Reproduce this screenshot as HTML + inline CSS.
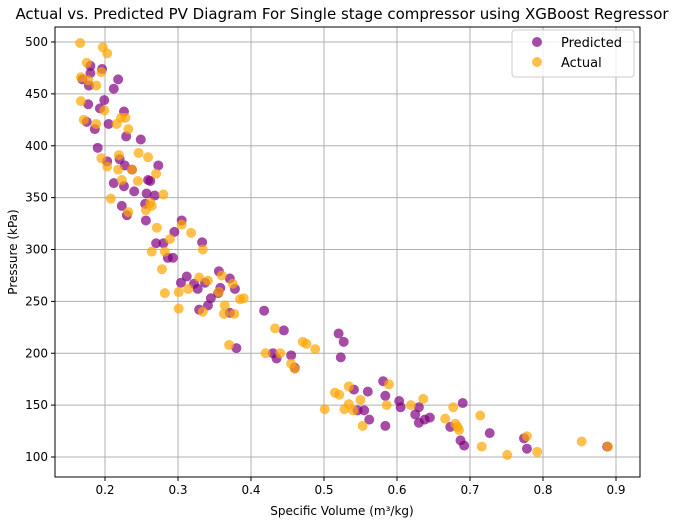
<!DOCTYPE html>
<html><head><meta charset="utf-8"><style>
body{margin:0;background:#fff;}
svg{display:block;font-family:"DejaVu Sans","Liberation Sans",sans-serif;}
</style></head><body>
<svg id="chart" width="685" height="520">
<text x="342" y="19" text-anchor="middle" font-size="15" fill="#000">Actual vs. Predicted PV Diagram For Single stage compressor using XGBoost Regressor</text>
<g id="grid"></g>
<g id="marks"></g>
<rect x="55" y="27" width="585" height="450" fill="none" stroke="#000" stroke-width="1"/>
<g id="ticks"></g>
<text x="342" y="515" text-anchor="middle" font-size="12">Specific Volume (m³/kg)</text>
<text x="0" y="0" transform="translate(17,252) rotate(-90)" text-anchor="middle" font-size="12">Pressure (kPa)</text>
<g>
<rect x="512" y="30" width="122" height="47" rx="3" fill="#fff" fill-opacity="0.8" stroke="#ccc"/>
<circle cx="537" cy="42" r="5" fill="#800080" fill-opacity="0.7"/>
<text x="561" y="47" font-size="13">Predicted</text>
<circle cx="537" cy="62" r="5" fill="#FFA500" fill-opacity="0.7"/>
<text x="561" y="67" font-size="13">Actual</text>
</g>
</svg>
<script>
const xTicks=[0.2,0.3,0.4,0.5,0.6,0.7,0.8,0.9];
const yTicks=[100,150,200,250,300,350,400,450,500];
const predV=[0.18,0.196,0.18,0.169,0.178,0.218,0.212,0.199,0.177,0.193,0.226,0.175,0.186,0.205,0.229,0.249,0.19,0.203,0.22,0.227,0.237,0.273,0.212,0.226,0.24,0.259,0.257,0.268,0.223,0.23,0.255,0.256,0.305,0.262,0.295,0.27,0.28,0.333,0.286,0.293,0.356,0.312,0.304,0.371,0.322,0.337,0.327,0.358,0.378,0.355,0.345,0.341,0.329,0.371,0.418,0.445,0.38,0.43,0.435,0.455,0.46,0.52,0.527,0.523,0.581,0.541,0.56,0.584,0.603,0.605,0.63,0.625,0.546,0.555,0.562,0.584,0.63,0.638,0.645,0.673,0.69,0.687,0.692,0.727,0.774,0.778,0.888];
const predP=[477,474,470,464,458,464,455,444,440,436,433,423,416,421,409,406,398,385,387,381,377,381,364,361,356,367,354,352,342,333,344,328,328,366,317,306,306,307,292,292,279,274,268,272,267,268,262,263,262,258,253,246,242,239,241,222,205,200,195,198,186,219,211,196,173,165,163,159,154,148,148,141,145,145,136,130,133,136,138,129,152,116,111,123,118,108,110];
const actV=[0.166,0.197,0.203,0.175,0.195,0.167,0.177,0.188,0.167,0.199,0.222,0.228,0.171,0.188,0.216,0.232,0.246,0.259,0.219,0.195,0.203,0.218,0.237,0.27,0.223,0.245,0.28,0.208,0.232,0.256,0.262,0.264,0.271,0.305,0.318,0.264,0.282,0.289,0.334,0.278,0.282,0.301,0.314,0.329,0.341,0.36,0.375,0.356,0.301,0.334,0.364,0.363,0.377,0.385,0.39,0.433,0.37,0.42,0.44,0.455,0.46,0.471,0.476,0.488,0.501,0.515,0.521,0.534,0.534,0.528,0.54,0.55,0.553,0.586,0.589,0.619,0.636,0.666,0.677,0.68,0.685,0.683,0.714,0.716,0.751,0.778,0.792,0.853,0.889];
const actP=[499,495,489,480,471,466,463,458,443,434,427,427,425,421,421,416,393,389,391,388,380,377,377,373,367,366,353,349,336,338,345,342,321,324,316,298,298,310,300,281,258,259,262,273,270,275,267,259,243,240,246,238,238,252,253,224,208,200,200,190,185,211,209,204,146,162,160,168,151,146,145,155,130,150,170,150,156,137,148,132,126,129,140,110,102,120,105,115,110];
const L=55,R=640,T=27,B=477;
function xs(v){return 105+(v-0.2)*730;}
function ys(p){return 457-(p-100)*1.0375;}
const NS="http://www.w3.org/2000/svg";
const grid=document.getElementById('grid'),ticks=document.getElementById('ticks'),marks=document.getElementById('marks');
function mk(tag,attrs,parent){const e=document.createElementNS(NS,tag);for(const k in attrs)e.setAttribute(k,attrs[k]);parent.appendChild(e);return e;}
xTicks.forEach(t=>{const x=xs(t);
 const g=mk('line',{x1:x,x2:x,y1:T,y2:B,stroke:'#b0b0b0','stroke-width':1},grid);
 
 
 mk('line',{x1:x,x2:x,y1:B,y2:B+4,stroke:'#000'},ticks);
 const tx=mk('text',{x:x,y:B+17,'text-anchor':'middle','font-size':12},ticks);tx.textContent=t.toFixed(1);
 
 
});
yTicks.forEach(t=>{const y=ys(t);
 const g=mk('line',{x1:L,x2:R,y1:y,y2:y,stroke:'#b0b0b0','stroke-width':1},grid);
 
 
 mk('line',{x1:L-4,x2:L,y1:y,y2:y,stroke:'#000'},ticks);
 const tx=mk('text',{x:L-7,y:y+4,'text-anchor':'end','font-size':12},ticks);tx.textContent=t;
 
 
});
predV.forEach((v,i)=>{const c=mk('circle',{cx:xs(v),cy:ys(predP[i]),r:5,fill:'#800080','fill-opacity':0.7},marks);
 
 });
actV.forEach((v,i)=>{const c=mk('circle',{cx:xs(v),cy:ys(actP[i]),r:5,fill:'#FFA500','fill-opacity':0.7},marks);
 
 });
</script>
</body></html>
